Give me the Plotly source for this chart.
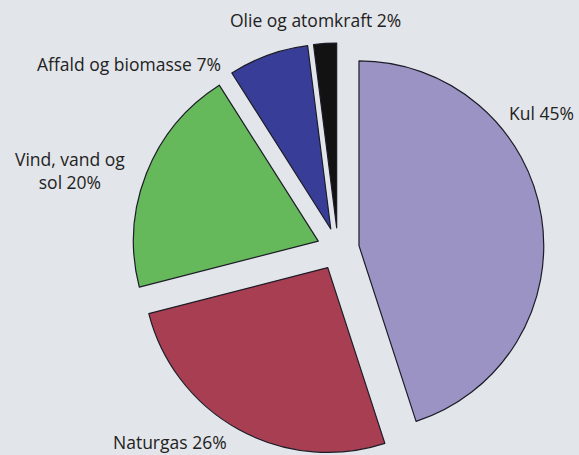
import plotly.graph_objects as go

# Data
labels = ["Kul", "Naturgas", "Vind, vand og<br>sol", "Affald og biomasse", "Olie og atomkraft"]
values = [45, 26, 20, 7, 2]
colors = ["#9b93c4", "#a83e52", "#66b95a", "#383e98", "#121212"]
pulls = [0.115, 0.115, 0.115, 0.115, 0.115]

W, H = 579, 455
# label anchor points in pixels (text centers)
label_px = [(541, 113), (170, 442), (70, 170), (129, 64), (315, 20)]

fig = go.Figure()
fig.add_trace(go.Pie(
    labels=labels,
    values=values,
    sort=False,
    direction="clockwise",
    rotation=0,
    pull=pulls,
    marker=dict(colors=colors, line=dict(color="#1c1c28", width=1.2)),
    textinfo="none",
    hoverinfo="label+percent",
    showlegend=False,
    domain=dict(x=[131 / W, 545 / W], y=[0, 412 / H]),
))

for lab, val, (px, py) in zip(labels, values, label_px):
    fig.add_annotation(
        x=px / W, y=1 - py / H, xref="paper", yref="paper",
        text=f"{lab} {val}%", showarrow=False,
        xanchor="center", yanchor="middle",
        font=dict(family="Open Sans", size=17.5, color="#222222"),
    )

fig.update_layout(
    width=W, height=H,
    margin=dict(l=0, r=0, t=0, b=0),
    paper_bgcolor="#e2e5e9",
    plot_bgcolor="#e2e5e9",
)

fig.write_html(
    "out.html",
    config={"displayModeBar": False},
    post_script="document.body.style.margin='0px';document.body.style.background='#e2e5e9';",
)
